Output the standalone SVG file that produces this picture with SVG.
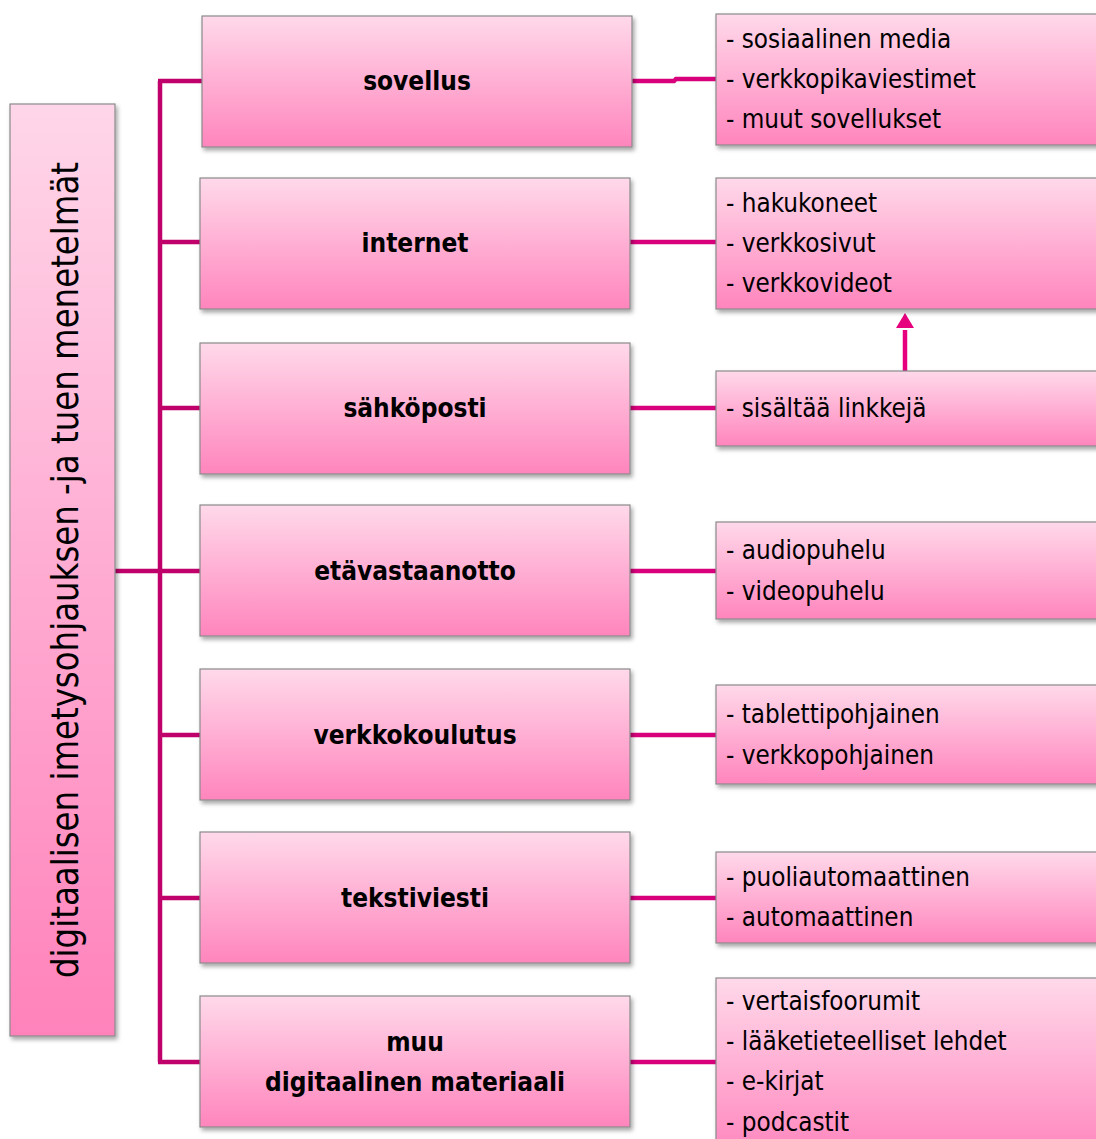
<svg xmlns="http://www.w3.org/2000/svg" width="1096" height="1139" viewBox="0 0 1096 1139">
<defs>
<linearGradient id="gv" x1="0" y1="0" x2="0" y2="1">
<stop offset="0" stop-color="#ffd9ea"/>
<stop offset="1" stop-color="#ff85bd"/>
</linearGradient>
<linearGradient id="gl" x1="0" y1="0" x2="0" y2="1">
<stop offset="0" stop-color="#ffd6e9"/>
<stop offset="1" stop-color="#ff82bb"/>
</linearGradient>
<filter id="sh" x="-10%" y="-10%" width="130%" height="130%">
<feDropShadow dx="2" dy="3" stdDeviation="2" flood-color="#000" flood-opacity="0.35"/>
</filter>
</defs>
<style>
.box{fill:url(#gv);stroke:#8a8a8a;stroke-width:1.2;filter:url(#sh)}
.lbl{font-family:"DejaVu Sans Condensed","DejaVu Sans",Verdana,sans-serif;font-weight:bold;font-size:26px;fill:#000;text-anchor:middle}
.itm{font-family:"DejaVu Sans Condensed","DejaVu Sans",Verdana,sans-serif;font-size:25.8px;fill:#000}
.bus{stroke:#c0006b;stroke-width:4.5;fill:none}
.con{stroke:#d8007b;stroke-width:4.5;fill:none}
</style>
<g id="connectors">
<path class="bus" d="M115,571 H160 M160,81 V1062 M158,81 H203 M158,242 H201 M158,408 H201 M158,571 H201 M158,735 H201 M158,898 H201 M158,1062 H201"/>
<path class="con" d="M631,81 H674 L676,79 H717 M629,242 H717 M629,408 H717 M629,571 H717 M629,735 H717 M629,898 H717 M629,1062 H717"/>
<path d="M905,371 V330" stroke="#e6007e" stroke-width="4.5" fill="none"/>
<path d="M896,328 L905,313 L914,328 z" fill="#e6007e"/>
</g>
<g id="root">
<rect x="10" y="104" width="105" height="932" fill="url(#gl)" stroke="#8a8a8a" stroke-width="1.2" filter="url(#sh)"/>
<text transform="translate(78,570) rotate(-90)" text-anchor="middle" font-family="DejaVu Sans Condensed,DejaVu Sans,Verdana,sans-serif" font-size="38" textLength="816" lengthAdjust="spacingAndGlyphs" fill="#000">digitaalisen imetysohjauksen -ja tuen menetelmät</text>
</g>
<g id="sovellus">
<rect class="box" x="202" y="16" width="430" height="131"/>
<text class="lbl" x="417" y="90">sovellus</text>
</g>
<g id="internet">
<rect class="box" x="200" y="178" width="430" height="131"/>
<text class="lbl" x="415" y="252">internet</text>
</g>
<g id="sahkoposti">
<rect class="box" x="200" y="343" width="430" height="131"/>
<text class="lbl" x="415" y="417">sähköposti</text>
</g>
<g id="etavastaanotto">
<rect class="box" x="200" y="505" width="430" height="131"/>
<text class="lbl" x="415" y="580">etävastaanotto</text>
</g>
<g id="verkkokoulutus">
<rect class="box" x="200" y="669" width="430" height="131"/>
<text class="lbl" x="415" y="744">verkkokoulutus</text>
</g>
<g id="tekstiviesti">
<rect class="box" x="200" y="832" width="430" height="131"/>
<text class="lbl" x="415" y="907">tekstiviesti</text>
</g>
<g id="muu">
<rect class="box" x="200" y="996" width="430" height="131"/>
<text class="lbl" x="415" y="1051">muu</text>
<text class="lbl" x="415" y="1091">digitaalinen materiaali</text>
</g>
<g id="sovellus-items">
<rect class="box" x="716" y="14" width="400" height="131"/>
<text class="itm" x="726" y="48">- sosiaalinen media</text>
<text class="itm" x="726" y="88">- verkkopikaviestimet</text>
<text class="itm" x="726" y="128">- muut sovellukset</text>
</g>
<g id="internet-items">
<rect class="box" x="716" y="178" width="400" height="131"/>
<text class="itm" x="726" y="212">- hakukoneet</text>
<text class="itm" x="726" y="252">- verkkosivut</text>
<text class="itm" x="726" y="292">- verkkovideot</text>
</g>
<g id="sahkoposti-items">
<rect class="box" x="716" y="371" width="400" height="75"/>
<text class="itm" x="726" y="417">- sisältää linkkejä</text>
</g>
<g id="etavastaanotto-items">
<rect class="box" x="716" y="522" width="400" height="97"/>
<text class="itm" x="726" y="559">- audiopuhelu</text>
<text class="itm" x="726" y="600">- videopuhelu</text>
</g>
<g id="verkkokoulutus-items">
<rect class="box" x="716" y="685" width="400" height="99"/>
<text class="itm" x="726" y="723">- tablettipohjainen</text>
<text class="itm" x="726" y="764">- verkkopohjainen</text>
</g>
<g id="tekstiviesti-items">
<rect class="box" x="716" y="852" width="400" height="91"/>
<text class="itm" x="726" y="886">- puoliautomaattinen</text>
<text class="itm" x="726" y="926">- automaattinen</text>
</g>
<g id="muu-items">
<rect class="box" x="716" y="978" width="400" height="180"/>
<text class="itm" x="726" y="1010">- vertaisfoorumit</text>
<text class="itm" x="726" y="1050">- lääketieteelliset lehdet</text>
<text class="itm" x="726" y="1090">- e-kirjat</text>
<text class="itm" x="726" y="1131">- podcastit</text>
</g>
</svg>
